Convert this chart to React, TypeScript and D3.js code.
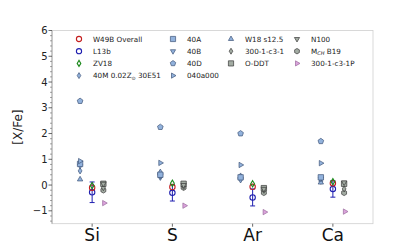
import React from 'react';
import * as d3 from 'd3';

const elements = ['Si', 'S', 'Ar', 'Ca'];

// observed
const w49b = [-0.1, -0.08, -0.07, 0.07];
const l13b = [-0.28, -0.3, -0.48, -0.15];
const l13bErr = [0.4, 0.32, 0.33, 0.32];
const zv18 = [-0.02, 0.07, 0.05, 0.13];

// core-collapse models
const m40M = [0.55, 0.3, 0.25, 0.15];
const m40A = [0.82, 0.4, 0.3, 0.3];
const m40B = [0.75, 0.35, 0.2, 0.25];
const m40D = [3.26, 2.25, 2.0, 1.7];
const m040a000 = [0.93, 0.86, 0.78, 0.85];
const w18 = [0.22, 0.5, 0.35, 0.1];

// type Ia models
const c31 = [-0.1, -0.05, -0.2, -0.15];
const oddt = [0.05, 0.05, -0.12, 0.05];
const n100 = [0.05, 0.0, -0.15, 0.1];
const mch = [-0.2, -0.1, -0.3, -0.3];
const c31P = [-0.7, -0.8, -1.05, -1.03];

const yTicks = [-1, 0, 1, 2, 3, 4, 5, 6];

const W = 415, H = 252;
const left = 52, right = 373, top = 30.5, bottom = 223.7;

const x = d3.scaleLinear().domain([0.5, 4.5]).range([left, right]);
const y = d3.scaleLinear().domain([-1.5, 6]).range([bottom, top]);

const blueFill = '#92b2dc', blueEdge = '#3f5478';
const grayFill = '#a3aca3', grayEdge = '#3a3a3a';
const pinkFill = '#dba3dc', pinkEdge = '#9a6a9c';

type Shape = 'circle' | 'diamond' | 'square' | 'tri-up' | 'tri-down' | 'tri-right' | 'pentagon' | 'hexagon';

function poly(n: number, r: number, rot: number) {
  const pts = d3.range(n).map(i => {
    const a = rot + (i * 2 * Math.PI) / n;
    return [r * Math.cos(a), r * Math.sin(a)];
  });
  return 'M' + pts.map(p => p.join(',')).join('L') + 'Z';
}

function shapePath(s: Shape, r: number) {
  switch (s) {
    case 'circle': return d3.symbol(d3.symbolCircle, Math.PI * r * r)() as string;
    case 'diamond': return `M0,${-r * 1.15}L${r * 0.7},0L0,${r * 1.15}L${-r * 0.7},0Z`;
    case 'square': return `M${-r},${-r}L${r},${-r}L${r},${r}L${-r},${r}Z`;
    case 'tri-up': return poly(3, r * 1.15, -Math.PI / 2);
    case 'tri-down': return poly(3, r * 1.15, Math.PI / 2);
    case 'tri-right': return poly(3, r * 1.15, 0);
    case 'pentagon': return poly(5, r * 1.1, -Math.PI / 2);
    case 'hexagon': return poly(6, r * 1.05, -Math.PI / 2);
  }
}

interface Series {
  label: string;
  values: number[];
  shape: Shape;
  fill: string;
  stroke: string;
  offset: number;
  err?: number[];
}

const series: Series[] = [
  { label: '40M 0.02Z⊙ 30E51', values: m40M, shape: 'diamond', fill: blueFill, stroke: blueEdge, offset: -0.15 },
  { label: 'W18 s12.5', values: w18, shape: 'tri-up', fill: blueFill, stroke: blueEdge, offset: -0.15 },
  { label: '40B', values: m40B, shape: 'tri-down', fill: blueFill, stroke: blueEdge, offset: -0.15 },
  { label: '40A', values: m40A, shape: 'square', fill: blueFill, stroke: blueEdge, offset: -0.15 },
  { label: '040a000', values: m040a000, shape: 'tri-right', fill: blueFill, stroke: blueEdge, offset: -0.15 },
  { label: '40D', values: m40D, shape: 'pentagon', fill: blueFill, stroke: blueEdge, offset: -0.15 },
  { label: 'M_CH B19', values: mch, shape: 'hexagon', fill: grayFill, stroke: grayEdge, offset: 0.14 },
  { label: '300-1-c3-1', values: c31, shape: 'diamond', fill: grayFill, stroke: grayEdge, offset: 0.14 },
  { label: 'O-DDT', values: oddt, shape: 'square', fill: grayFill, stroke: grayEdge, offset: 0.14 },
  { label: 'N100', values: n100, shape: 'tri-down', fill: grayFill, stroke: grayEdge, offset: 0.14 },
  { label: '300-1-c3-1P', values: c31P, shape: 'tri-right', fill: pinkFill, stroke: pinkEdge, offset: 0.15 },
  { label: 'L13b', values: l13b, shape: 'circle', fill: 'none', stroke: '#1f1fb0', offset: 0, err: l13bErr },
  { label: 'W49B Overall', values: w49b, shape: 'circle', fill: 'none', stroke: '#c41e1e', offset: 0 },
  { label: 'ZV18', values: zv18, shape: 'diamond', fill: 'none', stroke: '#1e8a1e', offset: 0 },
];

// legend order, column by column
const legendCols: string[][] = [
  ['W49B Overall', 'L13b', 'ZV18', '40M 0.02Z⊙ 30E51'],
  ['40A', '40B', '40D', '040a000'],
  ['W18 s12.5', '300-1-c3-1', 'O-DDT'],
  ['N100', 'M_CH B19', '300-1-c3-1P'],
];
const legendColX = [79, 173, 231, 297];

function LegendLabel({ name }: { name: string }) {
  if (name === 'M_CH B19') {
    return (
      <>
        M<tspan fontSize={5} dy={1.5} fontStyle="italic">CH</tspan>
        <tspan dy={-1.5}> B19</tspan>
      </>
    );
  }
  if (name === '40M 0.02Z⊙ 30E51') {
    return (
      <>
        40M 0.02Z<tspan fontSize={5} dy={1.5}>⊙</tspan>
        <tspan dy={-1.5}> 30E51</tspan>
      </>
    );
  }
  return <>{name}</>;
}

export default function App() {
  const font = 'DejaVu Sans, sans-serif';
  const minor = d3.range(-1.4, 6.01, 0.2).filter(v => Math.abs(v - Math.round(v)) > 0.01);
  const byName = new Map(series.map(s => [s.label, s]));
  return (
    <svg width={W} height={H} style={{ position: 'absolute', left: 0, top: 0 }} fontFamily={font}>
      <rect x={0} y={0} width={W} height={H} fill="#fff" />
      {/* frame */}
      <rect x={left} y={top} width={right - left} height={bottom - top} fill="none" stroke="#cfcfcf" strokeWidth={0.8} />
      <line x1={left} x2={left} y1={top} y2={bottom} stroke="#9a9a9a" strokeWidth={0.8} />

      {/* y ticks */}
      {yTicks.map(t => (
        <g key={t}>
          <line x1={left - 3.5} x2={left} y1={y(t)} y2={y(t)} stroke="#444" strokeWidth={0.8} />
          <text x={left - 4.5} y={y(t)} dy="0.35em" textAnchor="end" fontSize={10} fill="#222">
            {t < 0 ? '\u2212' + Math.abs(t) : t}
          </text>
        </g>
      ))}
      {minor.map(t => (
        <line key={t} x1={left - 2} x2={left} y1={y(t)} y2={y(t)} stroke="#666" strokeWidth={0.6} />
      ))}
      <text transform={`translate(22,${(top + bottom) / 2}) rotate(-90)`} textAnchor="middle" fontSize={12} fill="#222">
        [X/Fe]
      </text>

      {/* x ticks */}
      {elements.map((e, i) => (
        <g key={e}>
          <line x1={x(i + 1)} x2={x(i + 1)} y1={bottom} y2={bottom + 3} stroke="#444" strokeWidth={0.8} />
          <text x={x(i + 1)} y={bottom + 17.5} textAnchor="middle" fontSize={17} fill="#111">{e}</text>
        </g>
      ))}

      {/* data */}
      {series.map((s, si) => (
        <g key={si}>
          {s.err && s.values.map((v, i) => {
            const cx = x(i + 1 + s.offset);
            return (
              <g key={i} stroke={s.stroke} strokeWidth={1}>
                <line x1={cx} x2={cx} y1={y(v - s.err![i])} y2={y(v + s.err![i])} />
                <line x1={cx - 2.5} x2={cx + 2.5} y1={y(v - s.err![i])} y2={y(v - s.err![i])} />
                <line x1={cx - 2.5} x2={cx + 2.5} y1={y(v + s.err![i])} y2={y(v + s.err![i])} />
              </g>
            );
          })}
          {s.values.map((v, i) => (
            <path
              key={i}
              d={shapePath(s.shape, 2.7)}
              transform={`translate(${x(i + 1 + s.offset)},${y(v)})`}
              fill={s.fill}
              stroke={s.stroke}
              strokeWidth={s.fill === 'none' ? 1.1 : 0.7}
            />
          ))}
        </g>
      ))}

      {/* legend */}
      {legendCols.map((col, ci) =>
        col.map((name, ri) => {
          const s = byName.get(name)!;
          const ly = 39 + ri * 12.2;
          return (
            <g key={name}>
              <path
                d={shapePath(s.shape, 2.6)}
                transform={`translate(${legendColX[ci]},${ly})`}
                fill={s.fill}
                stroke={s.stroke}
                strokeWidth={s.fill === 'none' ? 1.1 : 0.7}
              />
              <text x={legendColX[ci] + 14} y={ly} dy="0.35em" fontSize={7.2} fill="#222">
                <LegendLabel name={name} />
              </text>
            </g>
          );
        })
      )}
    </svg>
  );
}
